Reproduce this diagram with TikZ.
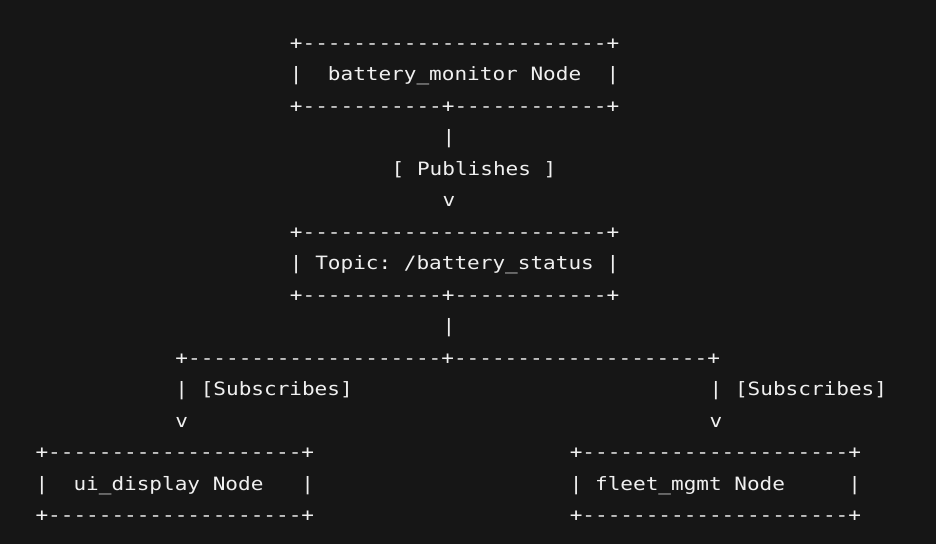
\documentclass[tikz,border=0pt]{standalone}
\usepackage{fontspec}
\setmonofont[FakeStretch=1.145]{DejaVu Sans Mono}
\definecolor{fondo}{HTML}{161616}
\definecolor{texto}{HTML}{F0F0F0}
\tikzset{
  fila/.style={anchor=base west, inner sep=0pt, text=texto,
    font=\ttfamily\fontsize{18.37pt}{20pt}\selectfont}
}
\begin{document}
\begin{tikzpicture}[x=12.72pt, y=-31.47pt]

% Fondo de la terminal
\fill[fondo] (-2.778,-1.573) rectangle (70.806,15.713);
\useasboundingbox (-2.778,-1.573) rectangle (70.806,15.713);

% Nodo battery_monitor
\node[fila] (monSup) at (20,0) {+------------------------+};
\node[fila] (mon) at (20,1) {|~~battery\_monitor~Node~~|};
\node[fila] (monInf) at (20,2) {+-----------+------------+};
\node[fila] (tuboA) at (32,3) {|};
\node[fila] (publica) at (28,4) {[~Publishes~]};
\node[fila] (flechaA) at (32,5) {v};

% Topic
\node[fila] (topSup) at (20,6) {+------------------------+};
\node[fila] (topic) at (20,7) {|~Topic:~/battery\_status~|};
\node[fila] (topInf) at (20,8) {+-----------+------------+};
\node[fila] (tuboB) at (32,9) {|};

% Ramas hacia los suscriptores
\node[fila] (rama) at (11,10) {+--------------------+--------------------+};
\foreach \c/\n in {11/Izq,53/Der} {
  \node[fila] (subs\n) at (\c,11) {|~[Subscribes]};
  \node[fila] (flecha\n) at (\c,12) {v};
}

% Nodos suscriptores
\node[fila] (uiSup) at (0,13) {+--------------------+};
\node[fila] (ui) at (0,14) {|~~ui\_display~Node~~~|};
\node[fila] (uiInf) at (0,15) {+--------------------+};
\node[fila] (fleetSup) at (42,13) {+---------------------+};
\node[fila] (fleet) at (42,14) {|~fleet\_mgmt~Node~~~~~|};
\node[fila] (fleetInf) at (42,15) {+---------------------+};

\end{tikzpicture}
\end{document}
